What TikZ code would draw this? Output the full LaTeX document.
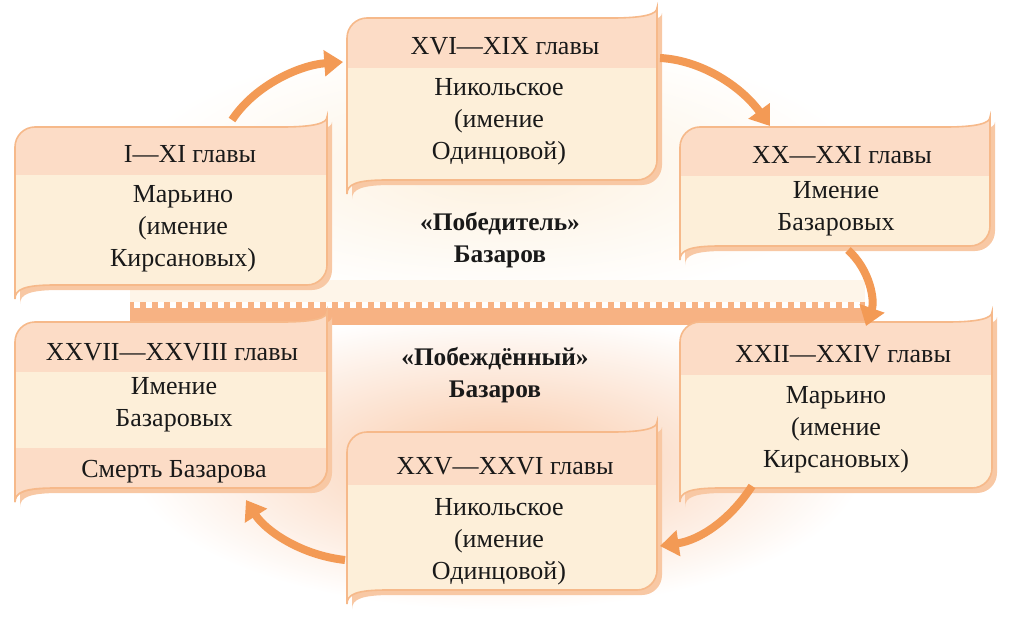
\documentclass[tikz,border=0pt]{standalone}
\usepackage{fontspec}
\setmainfont{Liberation Serif}
\usetikzlibrary{arrows.meta}
\definecolor{hdr}{HTML}{FCDCC6}
\definecolor{bdy}{HTML}{FDEFD9}
\definecolor{brd}{HTML}{F6B98A}
\definecolor{shd}{HTML}{F8C8A4}
\definecolor{arr}{HTML}{F39A55}
\definecolor{band}{HTML}{F7B283}
\definecolor{cream}{HTML}{FDF1DF}
\newcommand\cardpath[4]{(#1,#2+20) arc[start angle=180,end angle=270,radius=20] -- (#3-45,#2) .. controls (#3-12,#2) and (#3,#2-4) .. (#3,#2-10) -- (#3,#4-20) arc[start angle=0,end angle=90,radius=20] -- (#1+40,#4) .. controls (#1+10,#4) and (#1,#4+4) .. (#1,#4+14) -- cycle}
\newcommand\mycard[5]{%
 \fill[shd] [shift={(5,5)}] \cardpath{#1}{#2}{#3}{#4};
 \fill[bdy] \cardpath{#1}{#2}{#3}{#4};
 \begin{scope}\clip \cardpath{#1}{#2}{#3}{#4};
 \fill[hdr] (#1-5,#2-15) rectangle (#3+5,#5);
 \end{scope}
 \draw[brd,line width=1.2pt] \cardpath{#1}{#2}{#3}{#4};}
\tikzset{txt/.style={font=\fontsize{19.5}{24}\selectfont,align=center,text=black!90},
 bold/.style={font=\bfseries\fontsize{19}{24}\selectfont,align=center,text=black!90},
 arrw/.style={arr,line width=6pt,-{Triangle[length=14pt,width=19pt]}}}
\begin{document}
\begin{tikzpicture}[x=0.75pt,y=-0.75pt]
\useasboundingbox (0,0) rectangle (1016,624);
% backgrounds
\fill[inner color=cream,outer color=white,shading=radial] (130,40) rectangle (865,302);
\fill[cream!70] (130,280) rectangle (865,302);
\fill[shading=radial,inner color=band!70,outer color=white] (130,312) rectangle (865,610);
\fill[band] (130,302) rectangle (865,325);
\foreach \i in {0,...,60}{\fill[white] (134+12*\i,302) rectangle (140+12*\i,308);}
% cards
\mycard{15}{127}{327}{285}{175}
\mycard{347}{18}{657}{180}{68}
\mycard{680}{127}{990}{246}{176}
\mycard{15}{322}{327}{488}{372}
\begin{scope}\clip (0,448) rectangle (340,510); \fill[hdr] \cardpath{15}{322}{327}{488}; \draw[brd,line width=1.2pt] \cardpath{15}{322}{327}{488};\end{scope}
\mycard{680}{322}{992}{488}{375}
\mycard{347}{432}{657}{590}{485}
% texts
\node[txt] (a1) at (190,154) {I—XI главы};
\node[txt] (a2) at (183,229) {Марьино\\(имение\\Кирсановых)};
\node[txt] (b1) at (505,46) {XVI—XIX главы};
\node[txt] (b2) at (499,122) {Никольское\\(имение\\Одинцовой)};
\node[txt] (c1) at (842,155) {XX—XXI главы};
\node[txt] (c2) at (836,209) {Имение\\Базаровых};
\node[txt] (d1) at (172,352) {XXVII—XXVIII главы};
\node[txt] (d2) at (174,405) {Имение\\Базаровых};
\node[txt] (d3) at (174,472) {Смерть Базарова};
\node[txt] (e1) at (843,354) {XXII—XXIV главы};
\node[txt] (e2) at (836,430) {Марьино\\(имение\\Кирсановых)};
\node[txt] (f1) at (505,466) {XXV—XXVI главы};
\node[txt] (f2) at (499,542) {Никольское\\(имение\\Одинцовой)};
\node[bold] (p1) at (500,240) {«Победитель»\\Базаров};
\node[bold] (p2) at (495,375) {«Побеждённый»\\Базаров};
% arrows
\coordinate (s1) at (232,120); \coordinate (t1) at (343,62);
\coordinate (s2) at (660,58); \coordinate (t2) at (770,126);
\coordinate (s3) at (848,250); \coordinate (t3) at (866,326);
\coordinate (s4) at (752,486); \coordinate (t4) at (660,546);
\coordinate (s5) at (345,560); \coordinate (t5) at (246,500);
\draw[arrw] (s1) .. controls (255,85) and (300,65) .. (t1);
\draw[arrw] (s2) .. controls (700,60) and (740,85) .. (t2);
\draw[arrw] (s3) .. controls (870,270) and (875,300) .. (t3);
\draw[arrw] (s4) .. controls (730,520) and (700,540) .. (t4);
\draw[arrw] (s5) .. controls (300,555) and (265,530) .. (t5);
\end{tikzpicture}
\end{document}
